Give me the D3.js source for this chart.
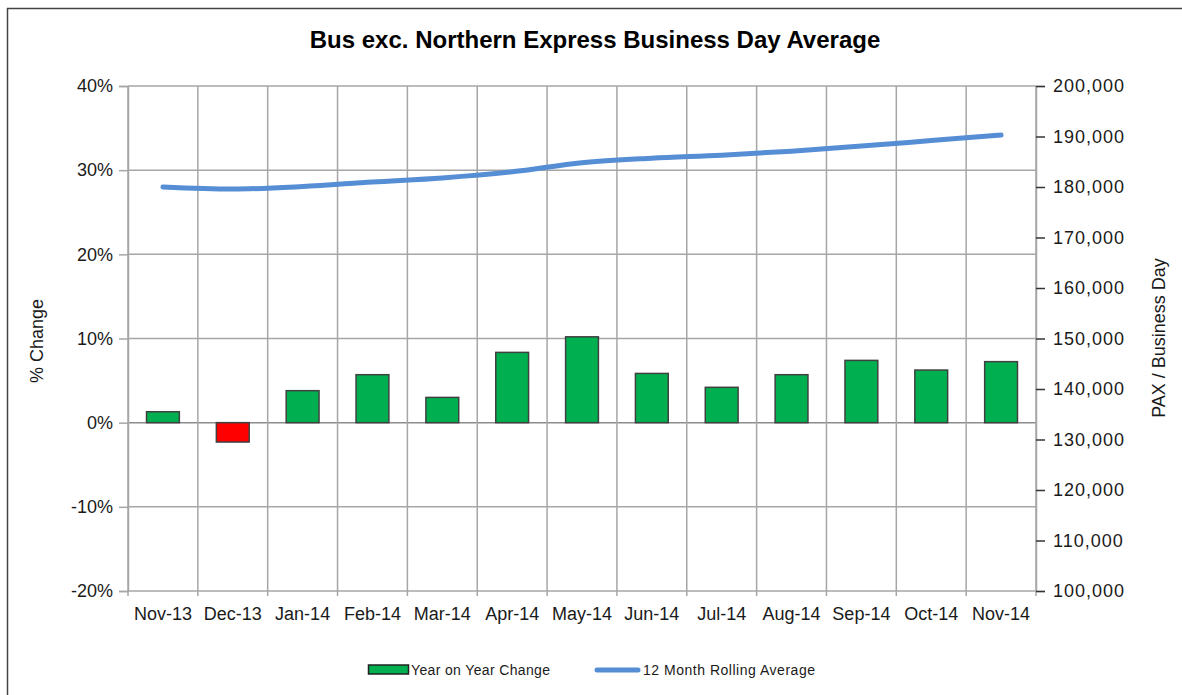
<!DOCTYPE html>
<html>
<head>
<meta charset="utf-8">
<script src="https://cdn.jsdelivr.net/npm/d3@7"></script>
<style>
  html, body { margin: 0; padding: 0; background: #fff; }
  svg { display: block; font-family: "Liberation Sans", Arial, sans-serif; }
</style>
</head>
<body>
<svg id="chart" width="1182" height="695"></svg>
<script>
const categories = ["Nov-13","Dec-13","Jan-14","Feb-14","Mar-14","Apr-14","May-14","Jun-14","Jul-14","Aug-14","Sep-14","Oct-14","Nov-14"];
const yoyChange = [0.013, -0.023, 0.038, 0.057, 0.030, 0.0835, 0.102, 0.0585, 0.042, 0.057, 0.074, 0.0625, 0.0725];
const rollingAvg = [180000, 179600, 180100, 181000, 181800, 183000, 184800, 185700, 186300, 187100, 188100, 189200, 190300];
const leftTicks = [-0.2, -0.1, 0, 0.1, 0.2, 0.3, 0.4];
const rightTicks = [100000, 110000, 120000, 130000, 140000, 150000, 160000, 170000, 180000, 190000, 200000];
const titleText = "Bus exc. Northern Express Business Day Average";
const leftTitle = "% Change";
const rightTitle = "PAX / Business Day";
const legendLabels = ["Year on Year Change", "12 Month Rolling Average"];

const svg = d3.select("#chart");
const L = 128, R = 1036, T = 86, B = 591;
const locale = d3.formatLocale({decimal: ".", thousands: ",", grouping: [3], currency: ["", ""], minus: "-"});

// outer border (top and left visible)
svg.append("rect").attr("x", 7.5).attr("y", 8.5).attr("width", 1200).attr("height", 720)
  .attr("fill", "none").attr("stroke", "#444").attr("stroke-width", 1.5);

const x = d3.scaleBand().domain(categories).range([L, R]).padding(0);
const yL = d3.scaleLinear().domain([-0.2, 0.4]).range([B, T]);
const yR = d3.scaleLinear().domain([100000, 200000]).range([B, T]);

const gridColor = "#a6a6a6";

// horizontal gridlines
svg.append("g").selectAll("line").data(leftTicks).join("line")
  .attr("x1", L).attr("x2", R)
  .attr("y1", d => yL(d)).attr("y2", d => yL(d))
  .attr("stroke", d => d === 0 ? "#8c8c8c" : gridColor).attr("stroke-width", 1.5);

// vertical gridlines at category boundaries (with small ticks below)
const bounds = categories.map(c => x(c)).concat([R]);
svg.append("g").selectAll("line").data(bounds).join("line")
  .attr("x1", d => d).attr("x2", d => d)
  .attr("y1", T).attr("y2", B + 5)
  .attr("stroke", gridColor).attr("stroke-width", 1.5);

// left axis
const leftAxis = d3.axisLeft(yL).tickValues(leftTicks).tickFormat(locale.format(".0%")).tickSize(9).tickPadding(6);
const gL = svg.append("g").attr("transform", `translate(${L},0)`).call(leftAxis);
gL.select(".domain").attr("stroke", gridColor).attr("stroke-width", 1.5);
gL.selectAll(".tick line").attr("stroke", gridColor).attr("stroke-width", 1.5);
gL.selectAll("text").attr("font-size", 18).attr("fill", "#1a1a1a").attr("font-family", "Liberation Sans, Arial, sans-serif");

// right axis
const rightAxis = d3.axisRight(yR).tickValues(rightTicks).tickFormat(locale.format(",")).tickSize(9).tickPadding(8);
const gR = svg.append("g").attr("transform", `translate(${R},0)`).call(rightAxis);
gR.select(".domain").attr("stroke", gridColor).attr("stroke-width", 1.5);
gR.selectAll(".tick line").attr("stroke", "#333").attr("stroke-width", 1.5);
gR.selectAll("text").attr("font-size", 18).attr("fill", "#1a1a1a").attr("letter-spacing", 1)
  .attr("font-family", "Liberation Sans, Arial, sans-serif");

// x axis labels
const bottomAxis = d3.axisBottom(x).tickSize(0).tickPadding(16);
const gB = svg.append("g").attr("transform", `translate(0,${B})`).call(bottomAxis);
gB.select(".domain").remove();
gB.selectAll("text").attr("font-size", 18).attr("fill", "#1a1a1a").attr("font-family", "Liberation Sans, Arial, sans-serif");

// bars
const frac = 0.47;
const bw = x.bandwidth() * frac;
svg.append("g").selectAll("rect").data(yoyChange).join("rect")
  .attr("x", (d, i) => x(categories[i]) + (x.bandwidth() - bw) / 2)
  .attr("width", bw)
  .attr("y", d => yL(Math.max(0, d)))
  .attr("height", d => Math.abs(yL(d) - yL(0)))
  .attr("fill", d => d < 0 ? "#ff0000" : "#00b050")
  .attr("stroke", "#404040").attr("stroke-width", 1.5);

// rolling average line
const line = d3.line()
  .x((d, i) => x(categories[i]) + x.bandwidth() / 2)
  .y(d => yR(d))
  .curve(d3.curveMonotoneX);
svg.append("path").datum(rollingAvg).attr("d", line)
  .attr("fill", "none").attr("stroke", "#558ed5").attr("stroke-width", 5)
  .attr("stroke-linecap", "round").attr("stroke-linejoin", "round");

// title
svg.append("text").attr("x", 595).attr("y", 48).attr("text-anchor", "middle")
  .attr("font-size", 24).attr("font-weight", "bold").attr("fill", "#000").text(titleText);

// axis titles
svg.append("text").attr("transform", "translate(43,341) rotate(-90)").attr("text-anchor", "middle")
  .attr("font-size", 18).attr("fill", "#1a1a1a").text(leftTitle);
svg.append("text").attr("transform", "translate(1165,338) rotate(-90)").attr("text-anchor", "middle")
  .attr("font-size", 18).attr("fill", "#1a1a1a").text(rightTitle);

// legend
const lg = svg.append("g");
lg.append("rect").attr("x", 368.5).attr("y", 665).attr("width", 40).attr("height", 9)
  .attr("fill", "#00b050").attr("stroke", "#222").attr("stroke-width", 1.5);
lg.append("text").attr("x", 411).attr("y", 675).attr("font-size", 14).attr("fill", "#1a1a1a")
  .attr("textLength", 139).text(legendLabels[0]);
lg.append("line").attr("x1", 597).attr("x2", 638).attr("y1", 670).attr("y2", 670)
  .attr("stroke", "#558ed5").attr("stroke-width", 5).attr("stroke-linecap", "round");
lg.append("text").attr("x", 643).attr("y", 675).attr("font-size", 14).attr("fill", "#1a1a1a")
  .attr("textLength", 172).text(legendLabels[1]);
</script>
</body>
</html>
